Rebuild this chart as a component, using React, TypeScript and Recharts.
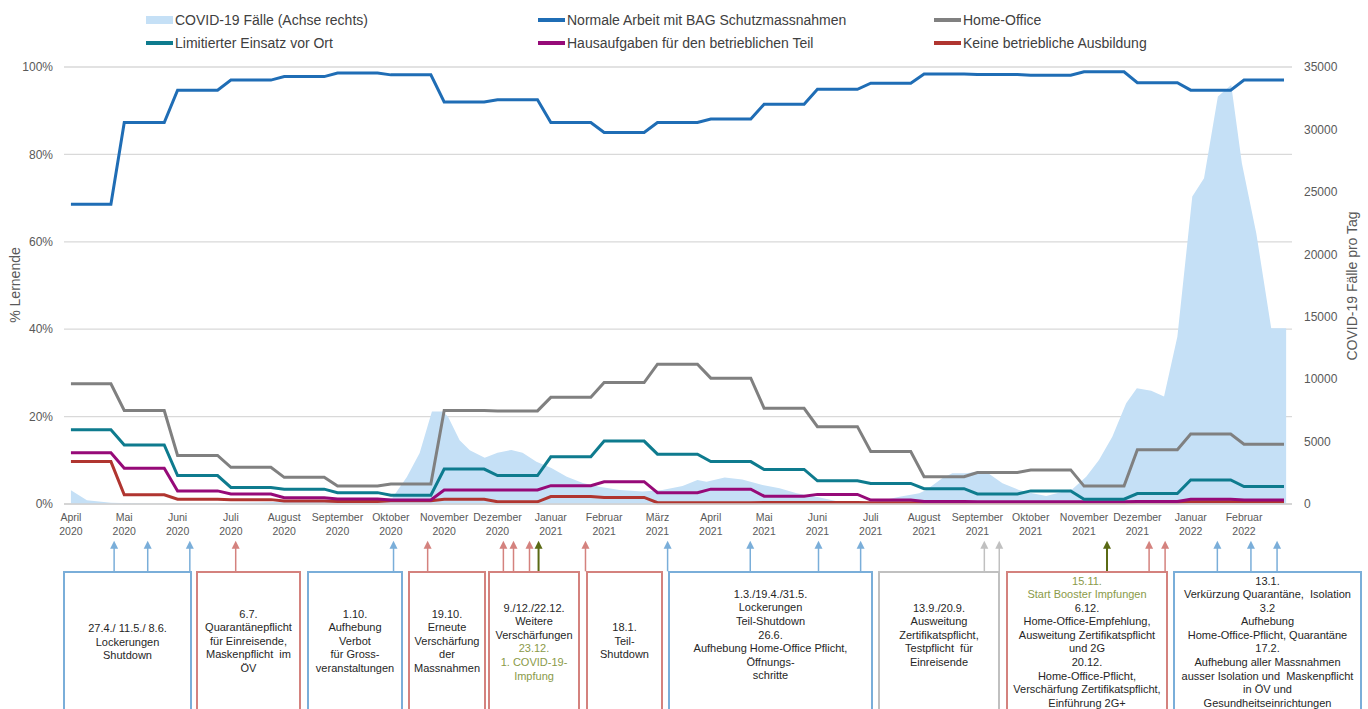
import React from 'react';
import { ComposedChart, Line, Area, XAxis, YAxis, CartesianGrid, ReferenceLine } from 'recharts';

// ---------- DATA ----------
const monthIndex = [0, 1, 2, 3, 4, 5, 6, 7, 8, 9, 10, 11, 12, 13, 14, 15, 16, 17, 18, 19, 20, 21, 22];
const monthNames = ['April', 'Mai', 'Juni', 'Juli', 'August', 'September', 'Oktober', 'November', 'Dezember', 'Januar', 'Februar', 'März', 'April', 'Mai', 'Juni', 'Juli', 'August', 'September', 'Oktober', 'November', 'Dezember', 'Januar', 'Februar'];
const monthYears = ['2020', '2020', '2020', '2020', '2020', '2020', '2020', '2020', '2020', '2021', '2021', '2021', '2021', '2021', '2021', '2021', '2021', '2021', '2021', '2021', '2021', '2022', '2022'];

const normaleArbeit = [68.6, 87.3, 94.7, 97.0, 97.8, 98.6, 98.2, 92.0, 92.5, 87.3, 85.0, 87.3, 88.1, 91.5, 94.9, 96.3, 98.4, 98.3, 98.1, 98.9, 96.4, 94.7, 97.0];
const homeOffice = [27.5, 21.4, 11.1, 8.4, 6.1, 4.1, 4.6, 21.4, 21.3, 24.4, 27.8, 32.0, 28.8, 21.9, 17.7, 12.0, 6.25, 7.2, 7.8, 4.1, 12.4, 16.0, 13.7];
const limitierterEinsatz = [17.0, 13.5, 6.5, 3.8, 3.4, 2.6, 2.0, 8.0, 6.5, 10.8, 14.4, 11.4, 9.7, 7.9, 5.3, 4.7, 3.5, 2.3, 3.0, 1.1, 2.4, 5.5, 4.0];
const hausaufgaben = [11.7, 8.2, 3.0, 2.3, 1.45, 1.15, 0.9, 3.2, 3.2, 4.2, 5.1, 2.6, 3.4, 1.8, 2.2, 0.9, 0.6, 0.5, 0.5, 0.5, 0.6, 1.1, 0.9];
const keineAusbildung = [9.7, 2.1, 1.1, 1.0, 0.7, 0.6, 0.75, 1.1, 0.5, 1.7, 1.5, 0.3, 0.3, 0.35, 0.35, 0.3, 0.3, 0.3, 0.3, 0.3, 0.4, 0.5, 0.5];

// COVID-19 cases per day (right axis), position in months since April 2020
const covidMonth = [0, 0.3, 0.75, 1.5, 2.5, 3.5, 4.5, 5.5, 6.03, 6.3, 6.54, 6.77, 6.97, 7.07, 7.29, 7.48, 7.76, 8.0, 8.26, 8.47, 8.73, 9.01, 9.3, 9.6, 9.91, 10.29, 10.72, 11.09, 11.47, 11.75, 11.92, 12.26, 12.59, 12.97, 13.29, 13.61, 13.98, 14.41, 15.03, 15.54, 15.91, 16.04, 16.34, 16.53, 16.79, 16.98, 17.19, 17.47, 17.78, 18.03, 18.29, 18.78, 19.04, 19.28, 19.53, 19.79, 19.99, 20.26, 20.5, 20.75, 21.03, 21.25, 21.51, 21.76, 21.96, 22.23, 22.51, 22.79];
const covidCases = [1100, 300, 100, 30, 60, 120, 250, 350, 500, 2160, 4090, 7400, 7400, 7000, 5100, 4300, 3700, 4110, 4330, 4110, 3390, 2880, 2190, 1680, 1390, 1120, 1000, 1120, 1440, 1920, 1790, 2120, 1960, 1520, 1270, 860, 590, 190, 120, 590, 860, 1120, 2060, 2460, 2460, 2590, 2510, 1660, 1120, 860, 640, 1180, 2190, 3520, 5390, 8070, 9270, 9080, 8600, 13400, 24620, 26090, 32630, 33560, 27290, 21680, 14070, 14070];

const leftTicks = [0, 20, 40, 60, 80, 100];
const rightTicks = [0, 5000, 10000, 15000, 20000, 25000, 30000, 35000];

// measure arrows: month position + kind
const arrowMonth = [0.81, 1.44, 2.23, 3.09, 6.05, 6.69, 8.11, 8.3, 8.6, 8.77, 9.65, 11.19, 12.74, 14.02, 14.81, 17.13, 17.41, 19.43, 20.22, 20.52, 21.5, 22.13, 22.62];
const arrowKind = ['relax', 'relax', 'relax', 'tight', 'relax', 'tight', 'tight', 'tight', 'tight', 'vaccine', 'tight', 'relax', 'relax', 'relax', 'relax', 'neutral', 'neutral', 'vaccine', 'tight', 'tight', 'relax', 'relax', 'relax'];

// annotation boxes (text); '*' prefix = vaccination (olive) line
const boxKind = ['relax', 'tight', 'relax', 'tight', 'tight', 'tight', 'relax', 'neutral', 'tight', 'relax'];
const boxLines = [
  ['27.4./ 11.5./ 8.6.', 'Lockerungen', 'Shutdown'],
  ['6.7.', 'Quarantänepflicht', 'für Einreisende,', 'Maskenpflicht  im', 'ÖV'],
  ['1.10.', 'Aufhebung', 'Verbot', 'für Gross-', 'veranstaltungen'],
  ['19.10.', 'Erneute', 'Verschärfung', 'der', 'Massnahmen'],
  ['9./12./22.12.', 'Weitere', 'Verschärfungen', '*23.12.', '*1. COVID-19-', '*Impfung'],
  ['18.1.', 'Teil-', 'Shutdown'],
  ['1.3./19.4./31.5.', 'Lockerungen', 'Teil-Shutdown', '26.6.', 'Aufhebung Home-Office Pflicht,', 'Öffnungs-', 'schritte'],
  ['13.9./20.9.', 'Ausweitung', 'Zertifikatspflicht,', 'Testpflicht  für', 'Einreisende'],
  ['*15.11.', '*Start Booster Impfungen', '6.12.', 'Home-Office-Empfehlung,', 'Ausweitung Zertifikatspflicht', 'und 2G', '20.12.', 'Home-Office-Pflicht,', 'Verschärfung Zertifikatspflicht,', 'Einführung 2G+'],
  ['13.1.', 'Verkürzung Quarantäne,  Isolation', '3.2', 'Aufhebung', 'Home-Office-Pflicht, Quarantäne', '17.2.', 'Aufhebung aller Massnahmen', 'ausser Isolation und  Maskenpflicht', 'in ÖV und', 'Gesundheitseinrichtungen'],
];

// ---------- LAYOUT / STYLE ----------
const W = 1368;
const H = 709;
const FONT = '"Liberation Sans", Arial, sans-serif';
const TXT = '#595959';
const C_NORMAL = '#1f6db5';
const C_HOME = '#808080';
const C_LIMIT = '#0e7b8e';
const C_HAUS = '#960a78';
const C_KEINE = '#b03530';
const C_COVID = '#c5e0f6';
const kindColor: Record<string, string> = { relax: '#7aaed9', tight: '#d4827e', neutral: '#c0c0c0', vaccine: '#5a6a14' };
const OLIVE_TEXT = '#8a9a48';

const boxLeft = [63, 196, 307, 408, 488, 586, 668, 878, 1006, 1173];
const boxRight = [192, 301, 403, 486, 580, 663, 873, 1000, 1168, 1362];
const boxCenter = [643, 642, 642, 642, 643, 642, 636, 636, 643, 643];
const BOX_TOP = 571;
const LINE_H = 13.6;
const ARROW_TIP = -8.4;
const ARROW_BASE = -15.4;

const lineRows = monthIndex.flatMap((i) =>
  [0, 0.75].map((off) => ({
    m: i + off,
    normal: normaleArbeit[i],
    home: homeOffice[i],
    limit: limitierterEinsatz[i],
    haus: hausaufgaben[i],
    keine: keineAusbildung[i],
  }))
);
const covidRows = covidMonth.map((m, i) => ({ m, cases: covidCases[i] }));

const MonthTick = (props: any) => {
  const { x, y, payload } = props;
  const i = payload.value as number;
  return (
    <text x={x} y={y} textAnchor="middle" fill={TXT} fontSize={10.5} fontFamily={FONT}>
      <tspan x={x} dy={17}>{monthNames[i]}</tspan>
      <tspan x={x} dy={14}>{monthYears[i]}</tspan>
    </text>
  );
};

const ArrowShape = (p: any) => {
  const { x1, y1, y2, stroke } = p;
  const w = stroke === kindColor.vaccine ? 2 : 1.5;
  return (
    <g>
      <line x1={x1} y1={y1 + 6} x2={x1} y2={y2} stroke={stroke} strokeWidth={w} />
      <polygon points={`${x1},${y1} ${x1 - 4},${y1 + 8} ${x1 + 4},${y1 + 8}`} fill={stroke} />
    </g>
  );
};

const legendItems = [
  { label: 'COVID-19 Fälle (Achse rechts)', color: C_COVID, area: true, col: 0, row: 0 },
  { label: 'Normale Arbeit mit BAG Schutzmassnahmen', color: C_NORMAL, col: 1, row: 0 },
  { label: 'Home-Office', color: C_HOME, col: 2, row: 0 },
  { label: 'Limitierter Einsatz vor Ort', color: C_LIMIT, col: 0, row: 1 },
  { label: 'Hausaufgaben für den betrieblichen Teil', color: C_HAUS, col: 1, row: 1 },
  { label: 'Keine betriebliche Ausbildung', color: C_KEINE, col: 2, row: 1 },
];
const legendColX = [146, 538, 934];
const legendRowY = [20, 43];

export default function App() {
  return (
    <div style={{ position: 'absolute', left: 0, top: 0, width: W, height: H, overflow: 'hidden', background: '#fff', fontFamily: FONT }}>
      <ComposedChart width={W} height={H} margin={{ top: 67, right: 0, bottom: 165, left: 0 }}>
        <CartesianGrid yAxisId="left" vertical={false} stroke="#d9d9d9" strokeWidth={1.3} />
        <XAxis
          type="number"
          dataKey="m"
          domain={[-0.13, 22.9]}
          ticks={monthIndex}
          interval={0}
          allowDataOverflow
          height={40}
          tick={<MonthTick />}
          tickLine={false}
          tickSize={0}
          tickMargin={0}
          axisLine={{ stroke: '#d0d0d0', strokeWidth: 1.3 }}
        />
        <YAxis
          yAxisId="left"
          orientation="left"
          width={64}
          domain={[0, 100]}
          ticks={leftTicks}
          tickFormatter={(v: number) => `${v}%`}
          axisLine={false}
          tickLine={false}
          tickSize={0}
          tickMargin={11}
          tick={{ fill: TXT, fontSize: 12, fontFamily: FONT }}
        />
        <YAxis
          yAxisId="right"
          orientation="right"
          width={76}
          domain={[0, 35000]}
          ticks={rightTicks}
          axisLine={false}
          tickLine={false}
          tickSize={0}
          tickMargin={12}
          tick={{ fill: TXT, fontSize: 12, fontFamily: FONT }}
        />
        <Area
          yAxisId="right"
          data={covidRows}
          dataKey="cases"
          type="linear"
          stroke="none"
          fill={C_COVID}
          fillOpacity={1}
          isAnimationActive={false}
        />
        <Line yAxisId="left" data={lineRows} dataKey="keine" type="linear" stroke={C_KEINE} strokeWidth={3} dot={false} isAnimationActive={false} />
        <Line yAxisId="left" data={lineRows} dataKey="haus" type="linear" stroke={C_HAUS} strokeWidth={3} dot={false} isAnimationActive={false} />
        <Line yAxisId="left" data={lineRows} dataKey="limit" type="linear" stroke={C_LIMIT} strokeWidth={3} dot={false} isAnimationActive={false} />
        <Line yAxisId="left" data={lineRows} dataKey="home" type="linear" stroke={C_HOME} strokeWidth={3} dot={false} isAnimationActive={false} />
        <Line yAxisId="left" data={lineRows} dataKey="normal" type="linear" stroke={C_NORMAL} strokeWidth={3} dot={false} isAnimationActive={false} />
        {arrowMonth.map((mx, k) => (
          <ReferenceLine
            key={`ar${k}`}
            yAxisId="left"
            ifOverflow="visible"
            segment={[{ x: mx, y: ARROW_TIP }, { x: mx, y: ARROW_BASE }]}
            stroke={kindColor[arrowKind[k]]}
            strokeWidth={1.5}
            shape={ArrowShape}
          />
        ))}
      </ComposedChart>

      {/* legend */}
      {legendItems.map((it) => (
        <div key={it.label} style={{ position: 'absolute', left: legendColX[it.col], top: legendRowY[it.row] - 9, height: 18, display: 'flex', alignItems: 'center', whiteSpace: 'nowrap' }}>
          {it.area ? (
            <div style={{ width: 27, height: 8, background: it.color, marginRight: 2 }} />
          ) : (
            <div style={{ width: 27, height: 3.5, background: it.color, marginRight: 2 }} />
          )}
          <span style={{ fontSize: 14, color: '#404040' }}>{it.label}</span>
        </div>
      ))}

      {/* axis titles */}
      <div style={{ position: 'absolute', left: 15, top: 285, transform: 'translate(-50%, -50%) rotate(-90deg)', fontSize: 14, color: TXT, whiteSpace: 'nowrap' }}>% Lernende</div>
      <div style={{ position: 'absolute', left: 1352, top: 286, transform: 'translate(-50%, -50%) rotate(-90deg)', fontSize: 14, color: TXT, whiteSpace: 'nowrap' }}>COVID-19 Fälle pro Tag</div>

      {/* annotation boxes */}
      {boxLines.map((lines, b) => {
        const top = boxCenter[b] - BOX_TOP - (lines.length * LINE_H) / 2;
        return (
          <div key={`bx${b}`} style={{ position: 'absolute', left: boxLeft[b], top: BOX_TOP, width: boxRight[b] - boxLeft[b], height: 160, boxSizing: 'border-box', border: `2.5px solid ${kindColor[boxKind[b]]}`, background: '#fff' }}>
            <div style={{ position: 'absolute', left: -6, right: -6, top: top - 2.5, textAlign: 'center', fontSize: 11, lineHeight: `${LINE_H}px`, color: '#262626', whiteSpace: 'pre' }}>
              {lines.map((ln, j) => (
                <div key={j} style={{ color: ln.startsWith('*') ? OLIVE_TEXT : '#262626' }}>{ln.startsWith('*') ? ln.slice(1) : ln}</div>
              ))}
            </div>
          </div>
        );
      })}
    </div>
  );
}
